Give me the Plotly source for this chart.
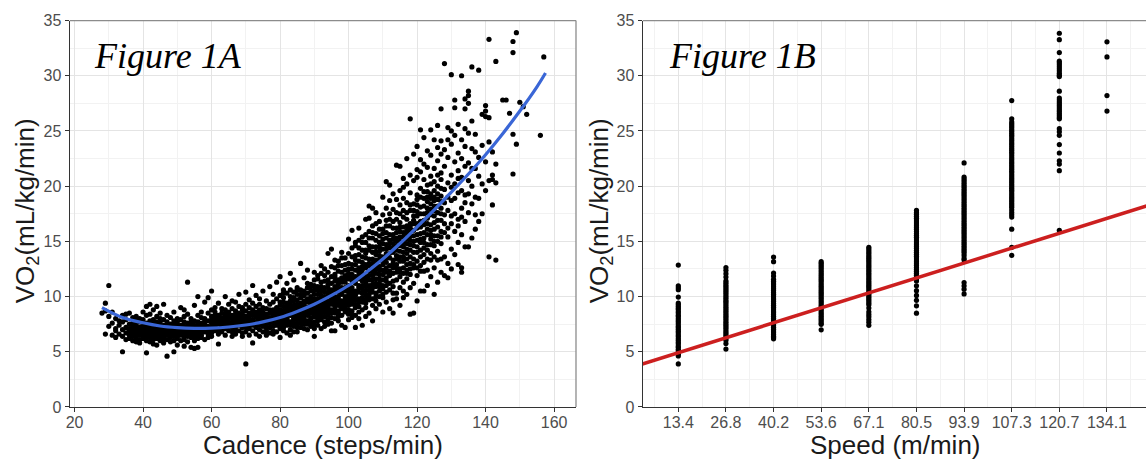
import plotly.graph_objects as go

# ---------------- Figure 1A data: VO2 readings at each cadence (steps/min) ----------------
band_20s_30s = [
    (28, [8.5]), (29, [9.4, 8.7, 6.6]), (30, [11.0, 7.3, 8.2]), (31, [6.5, 8.6, 7.6]),
    (32, [6.3, 8.0, 7.1, 6.9]), (33, [7.8, 6.6, 7.4]), (34, [5.0, 8.3, 7.0, 6.4, 7.7]),
    (35, [8.4, 7.2, 6.7, 6.1, 7.9]), (36, [7.5, 6.9, 8.5, 6.2, 7.1, 6.5]),
    (37, [8.1, 6.0, 7.3, 6.8, 7.6, 6.4]), (38, [8.2, 6.6, 7.0, 5.9, 7.8, 6.3, 7.4]),
    (39, [8.0, 6.1, 6.9, 7.2, 6.5, 7.7, 5.8]),
]
band_40s = [
    (40, [8.6, 6.4, 7.1, 6.2, 7.5, 6.7, 7.9]), (41, [4.9, 9.1, 6.5, 7.3, 6.0, 6.8, 7.6, 8.3]),
    (42, [9.3, 6.3, 7.0, 6.6, 7.8, 5.9, 7.2, 8.4]), (43, [8.8, 6.1, 7.4, 6.9, 6.4, 7.9, 5.7, 7.1]),
    (44, [9.1, 6.5, 7.7, 6.2, 7.0, 8.2, 6.8, 5.6]), (45, [8.0, 6.7, 7.3, 6.0, 7.6, 6.4, 8.5]),
    (46, [9.3, 6.2, 7.1, 6.6, 7.9, 5.8, 7.4]), (47, [4.6, 7.7, 6.5, 8.3, 6.9, 6.1, 7.3]),
    (48, [8.1, 6.3, 7.0, 5.9, 7.5, 6.7]), (49, [5.0, 8.6, 6.4, 7.2, 6.0, 7.8, 6.8]),
]
band_50s = [
    (50, [7.6, 6.2, 8.0, 6.6, 7.1, 5.6]), (51, [9.0, 6.5, 7.4, 6.0, 7.9, 6.9]),
    (52, [8.8, 6.1, 7.3, 5.5, 6.7, 7.7, 8.2]), (53, [11.3, 6.4, 7.0, 5.9, 7.6, 6.8, 8.4]),
    (54, [5.4, 7.2, 6.3, 8.0, 6.9, 7.5]), (55, [9.2, 6.0, 7.1, 5.3, 6.6, 7.8]),
    (56, [10.0, 6.5, 7.4, 5.4, 8.3, 6.9, 7.7]), (57, [8.6, 7.0, 6.3, 7.6, 8.1, 6.7]),
    (58, [9.5, 7.3, 6.8, 8.0, 6.1, 7.5]), (59, [9.9, 7.1, 8.5, 6.6, 7.8, 6.9]),
]
band_60s = [
    (60, [10.5, 6.7, 7.6, 8.2, 7.2, 8.8, 6.4]), (61, [9.0, 7.4, 8.0, 6.9, 7.7, 8.6]),
    (62, [5.7, 9.4, 7.0, 8.3, 7.5, 6.6, 7.9]), (63, [8.9, 7.2, 8.1, 6.8, 7.6, 8.5, 7.0]),
    (64, [10.0, 7.5, 8.4, 6.5, 7.9, 8.8, 7.1]), (65, [9.3, 7.3, 8.0, 6.9, 8.6, 7.7]),
    (66, [9.6, 6.8, 7.6, 8.3, 7.2, 8.9, 6.4]), (67, [9.5, 7.0, 8.1, 7.5, 8.7, 6.6, 7.8]),
    (68, [10.2, 7.4, 8.5, 6.9, 8.0, 9.1, 7.7]), (69, [9.0, 6.7, 7.9, 8.4, 7.2, 8.8, 6.4]),
]
band_70s = [
    (70, [3.9, 10.4, 7.5, 8.2, 6.8, 8.7, 7.8, 9.3]), (71, [9.7, 7.1, 8.0, 6.5, 8.5, 7.6, 9.0]),
    (72, [11.0, 5.8, 7.4, 8.3, 6.9, 8.8, 7.9, 9.4]), (73, [10.1, 6.6, 7.7, 8.6, 7.2, 9.1, 8.1]),
    (74, [9.8, 7.0, 8.4, 6.4, 7.9, 9.3, 8.8, 7.4]), (75, [10.5, 7.6, 8.2, 6.8, 9.0, 7.3, 8.6]),
    (76, [9.6, 6.9, 8.0, 7.5, 8.9, 6.5, 8.4, 7.8]), (77, [10.9, 7.2, 8.5, 6.7, 9.3, 7.9, 8.1]),
    (78, [10.2, 6.6, 7.7, 8.8, 7.3, 9.5, 8.3, 6.9]), (79, [11.3, 6.8, 8.0, 7.4, 9.0, 8.6, 7.7, 9.8]),
]
band_80s = [
    (80, [11.8, 7.1, 8.4, 6.3, 9.2, 7.8, 8.8, 10.1, 7.5]), (81, [10.6, 6.9, 8.1, 9.5, 7.6, 8.7, 7.2, 9.9]),
    (82, [11.2, 7.4, 8.6, 6.7, 9.1, 8.2, 7.9, 10.3, 8.9]), (83, [12.1, 7.0, 8.3, 9.6, 7.7, 8.8, 6.5, 10.0, 9.3]),
    (84, [11.5, 7.3, 8.0, 9.2, 8.5, 7.6, 10.4, 8.9, 6.8]), (85, [10.8, 6.8, 8.4, 9.7, 7.5, 9.0, 8.1, 10.2, 7.9]),
    (86, [13.0, 7.2, 8.7, 9.4, 8.2, 10.6, 7.6, 9.9, 8.5]), (87, [11.7, 7.5, 9.1, 8.0, 10.1, 8.6, 7.1, 9.6, 8.8]),
    (88, [12.4, 7.0, 8.3, 9.5, 10.8, 7.8, 9.0, 8.5, 10.3]), (89, [11.1, 7.6, 9.2, 8.1, 10.0, 8.8, 7.3, 9.7, 10.5]),
]
band_90s = [
    (90, [12.2, 6.4, 8.5, 9.8, 7.7, 10.6, 9.1, 8.2, 11.0, 7.1]), (91, [11.6, 7.4, 8.9, 10.2, 8.0, 9.5, 10.9, 7.8, 9.2]),
    (92, [12.8, 7.1, 9.3, 8.4, 10.5, 9.0, 11.3, 7.9, 8.7, 9.9]), (93, [11.9, 7.7, 8.6, 10.0, 9.4, 8.2, 10.8, 7.3, 9.7]),
    (94, [13.9, 7.5, 9.0, 8.3, 10.4, 9.6, 11.5, 8.8, 10.1, 7.9]), (95, [14.3, 6.9, 8.8, 10.6, 9.3, 11.8, 8.1, 9.9, 10.3, 7.6]),
    (96, [12.6, 6.9, 9.5, 8.5, 10.9, 10.0, 11.4, 9.1, 8.0, 12.0]), (97, [13.2, 7.8, 9.2, 10.4, 8.7, 11.1, 9.8, 12.3, 8.2, 10.7]),
    (98, [14.0, 7.4, 9.6, 8.9, 10.8, 10.2, 11.7, 9.0, 12.8, 8.3]), (99, [13.5, 7.2, 8.6, 10.5, 9.4, 11.3, 10.0, 12.4, 9.1, 11.9]),
]
band_100s = [
    (100, [15.2, 7.9, 9.9, 8.8, 11.0, 10.4, 12.1, 9.5, 13.0, 11.6, 8.4]),
    (101, [16.0, 8.1, 9.3, 10.8, 12.5, 9.9, 11.4, 13.6, 10.2, 8.7, 12.0]),
    (102, [14.6, 7.2, 9.7, 11.2, 10.5, 12.9, 9.0, 11.8, 13.3, 8.3, 10.1]),
    (103, [16.2, 8.0, 9.5, 11.6, 10.8, 13.8, 12.2, 9.1, 11.0, 14.4, 8.6]),
    (104, [15.4, 7.4, 9.9, 12.0, 10.3, 11.4, 13.1, 8.8, 12.7, 14.9, 10.7]),
    (105, [17.0, 8.2, 10.1, 11.8, 12.6, 9.4, 13.5, 10.9, 14.2, 11.2, 15.6, 9.0]),
    (106, [18.2, 17.1, 8.5, 10.6, 12.3, 9.7, 13.0, 11.5, 14.6, 12.8, 15.9, 10.2]),
    (107, [18.0, 7.8, 9.2, 11.9, 13.4, 10.4, 12.5, 14.0, 11.1, 15.3, 16.4, 9.8]),
    (108, [17.6, 8.9, 10.9, 12.1, 13.8, 11.6, 14.5, 9.6, 15.7, 12.9, 16.6, 10.3]),
    (109, [16.8, 9.3, 10.5, 12.7, 13.3, 11.2, 14.9, 15.5, 12.0, 10.0, 14.1]),
]
band_110s = [
    (110, [19.0, 8.6, 10.7, 12.4, 14.3, 11.5, 15.2, 13.6, 16.1, 12.9, 17.4, 9.9]),
    (111, [20.4, 9.5, 11.0, 13.1, 14.7, 12.2, 15.8, 11.7, 16.9, 13.9, 18.0, 10.4]),
    (112, [20.1, 8.9, 10.6, 12.8, 15.1, 13.5, 16.4, 11.9, 17.5, 14.4, 18.7, 12.3]),
    (113, [19.3, 8.5, 10.9, 13.3, 14.0, 15.6, 12.6, 16.8, 11.4, 17.9, 14.8, 9.7]),
    (114, [21.9, 9.8, 11.5, 13.7, 15.3, 12.9, 16.2, 14.6, 17.6, 18.8, 12.2, 10.3]),
    (115, [21.8, 9.2, 11.8, 14.1, 15.9, 13.2, 16.7, 12.5, 18.3, 15.0, 19.6, 10.8]),
    (116, [20.7, 9.9, 12.1, 14.5, 13.6, 16.3, 17.2, 11.3, 18.9, 15.4, 19.9, 10.5]),
    (117, [22.5, 10.2, 12.4, 13.9, 15.7, 17.0, 14.8, 18.5, 12.9, 16.4, 20.2, 11.6]),
    (118, [26.1, 8.4, 10.8, 13.0, 15.1, 16.6, 14.2, 17.8, 19.4, 12.0, 21.0, 16.0]),
    (119, [22.9, 8.5, 11.2, 13.4, 15.5, 17.3, 14.6, 18.4, 12.6, 20.5, 16.9]),
]
band_120s = [
    (120, [23.6, 9.6, 11.9, 14.0, 16.2, 15.1, 17.7, 19.2, 13.2, 20.8, 18.3, 21.5]),
    (121, [25.1, 10.5, 12.8, 14.9, 16.8, 15.7, 18.1, 19.8, 13.6, 21.3, 22.4]),
    (122, [24.4, 10.5, 12.3, 14.4, 16.5, 17.5, 15.3, 18.9, 20.6, 13.1, 22.0]),
    (123, [23.2, 11.0, 13.4, 15.6, 17.1, 18.6, 16.1, 20.1, 14.2, 21.7, 19.5]),
    (124, [25.1, 11.8, 13.9, 16.0, 17.9, 15.2, 19.3, 20.9, 14.7, 22.8, 18.4]),
    (125, [24.2, 10.2, 12.6, 14.6, 16.7, 18.2, 20.4, 17.3, 21.6, 15.5, 19.0]),
    (126, [25.5, 11.3, 14.1, 16.3, 18.8, 17.6, 20.0, 22.3, 15.0, 23.5]),
    (127, [27.0, 24.1, 12.2, 14.8, 16.9, 19.1, 18.0, 21.2, 22.9, 15.9]),
    (128, [31.1, 11.9, 13.6, 15.8, 17.4, 19.7, 21.8, 18.5, 23.3, 16.6]),
    (129, [24.2, 11.7, 13.0, 15.4, 17.8, 20.3, 19.0, 22.6, 16.2, 25.3]),
]
band_130s = [
    (130, [30.1, 12.5, 14.3, 16.6, 18.7, 21.0, 19.9, 23.8, 17.3, 25.0]),
    (131, [27.1, 27.8, 13.8, 15.9, 17.5, 20.2, 22.2, 18.9, 24.6]),
    (132, [25.6, 12.9, 14.9, 17.0, 19.4, 21.4, 23.0, 16.4, 20.7]),
    (133, [30.0, 24.2, 12.2, 12.6, 15.6, 18.0, 20.8, 22.5, 17.2, 19.6]),
    (134, [27.9, 27.0, 14.5, 16.8, 19.2, 21.8, 23.6, 25.2, 18.5]),
    (135, [28.6, 28.2, 27.5, 14.5, 17.6, 20.5, 22.1, 24.8, 19.3]),
    (136, [30.8, 15.3, 18.4, 21.6, 23.4, 20.0, 25.9]),
    (137, [21.6, 16.1, 19.0, 23.1, 17.4, 24.7]),
    (138, [30.5, 20.9, 16.8, 22.6, 18.9]),
    (139, [26.5, 20.2, 17.5, 23.7]),
]
band_140s_150s = [
    (140, [27.3, 26.8, 26.3, 19.6, 22.2]), (141, [33.3, 26.2, 13.6, 20.5, 24.0]),
    (142, [18.3, 21.0, 20.6, 23.1]), (143, [31.3, 22.0, 13.3, 20.3]),
    (145, [27.8]), (146, [27.8]), (147, [26.6]), (148, [33.1, 32.1, 21.1, 24.7]),
    (149, [33.9, 23.8]), (150, [27.6]), (151, [27.2]), (152, [26.5]),
    (156, [24.6]), (157, [31.7]),
]
# extra readings filling the densest part of the cloud
core_36_59 = [
    (36, [7.0, 6.7]), (37, [7.1, 6.6]), (38, [6.8, 7.2]), (39, [6.6, 7.0]), (40, [6.9, 6.6, 7.3]),
    (41, [7.0, 6.3]), (42, [6.8, 7.5]), (43, [6.6, 7.6]), (44, [6.4, 7.3]), (45, [7.0, 6.2]),
    (46, [6.9, 6.4]), (47, [7.0, 6.7]), (48, [6.5, 7.3, 6.9]), (49, [6.6, 7.5]), (50, [6.9, 7.3, 6.4]),
    (51, [6.7, 7.1]), (52, [6.4, 7.0]), (53, [6.6, 7.3]), (54, [6.6, 7.7]), (55, [6.8, 7.4, 6.3]),
    (56, [7.1, 6.2]), (57, [7.3, 6.5]), (58, [7.0, 7.8]), (59, [7.3, 6.3]),
]
core_60_79 = [
    (60, [7.0, 7.9]), (61, [7.2, 8.3]), (62, [7.7, 8.1]), (63, [7.4, 7.8]), (64, [7.3, 8.1]),
    (65, [7.5, 8.3]), (66, [7.4, 8.0]), (67, [7.3, 8.4]), (68, [7.6, 8.3]), (69, [7.7, 8.1]),
    (70, [7.2, 8.0]), (71, [7.4, 8.3]), (72, [7.7, 8.6]), (73, [7.5, 8.4]), (74, [7.7, 8.1]),
    (75, [7.9, 8.4]), (76, [7.2, 8.2]), (77, [7.6, 8.8]), (78, [8.0, 8.6]), (79, [7.9, 8.3]),
]
core_80_99 = [
    (80, [8.0, 8.6, 9.5, 7.3]), (81, [8.4, 7.9, 9.1, 10.3]), (82, [8.0, 9.4, 7.6, 8.4]),
    (83, [8.6, 7.4, 9.0, 10.6]), (84, [8.2, 9.6, 7.9, 9.9]), (85, [8.8, 9.3, 7.2, 10.6]),
    (86, [8.0, 9.1, 10.2, 7.9]), (87, [8.3, 9.3, 10.5, 7.8]), (88, [8.8, 9.8, 7.5, 11.2]),
    (89, [8.5, 9.4, 10.9, 8.0]), (90, [8.8, 9.5, 10.2, 7.4, 11.5]), (91, [8.5, 9.8, 10.6, 11.9, 8.2]),
    (92, [9.6, 10.1, 8.1, 10.9, 12.1]), (93, [9.1, 10.4, 11.4, 8.9, 12.5]), (94, [9.3, 10.8, 8.6, 12.2, 11.1]),
    (95, [9.6, 10.0, 11.2, 8.5, 12.7]), (96, [9.8, 10.6, 8.8, 11.8, 13.3]), (97, [10.0, 11.5, 9.5, 8.5, 12.8]),
    (98, [9.3, 10.5, 11.3, 12.2, 13.5]), (99, [9.7, 10.8, 11.6, 8.9, 12.9]),
]
core_100_127 = [
    (100, [10.1, 10.8, 11.8, 9.2, 12.5, 13.9]), (101, [9.6, 10.5, 11.7, 12.9, 8.4, 14.4]),
    (102, [10.3, 11.5, 12.4, 9.3, 13.7, 14.9]), (103, [10.4, 11.9, 12.6, 9.8, 13.2, 15.1]),
    (104, [11.0, 11.8, 12.4, 9.5, 13.6, 14.2]), (105, [10.5, 11.5, 12.9, 13.9, 9.7, 14.9]),
    (106, [11.0, 11.9, 13.4, 14.2, 9.9, 15.3]), (107, [10.8, 12.2, 13.0, 14.5, 11.5, 15.8]),
    (108, [11.2, 12.5, 13.3, 14.1, 10.0, 15.1]), (109, [11.6, 12.4, 13.7, 14.5, 10.9, 16.1]),
    (110, [11.0, 12.0, 13.2, 14.8, 10.2, 15.7]), (111, [11.4, 12.6, 13.5, 14.3, 15.3, 16.4]),
    (112, [11.2, 12.0, 13.9, 14.8, 15.6, 17.0]), (113, [12.1, 13.0, 14.4, 15.2, 16.2, 10.3]),
    (114, [12.6, 13.4, 14.2, 15.0, 15.8, 17.0]), (115, [12.2, 13.6, 14.6, 15.4, 16.3, 17.5]),
    (116, [12.6, 13.2, 14.0, 14.9, 15.8, 17.8]), (117, [12.1, 13.4, 14.3, 15.2, 16.0, 17.6]),
    (118, [12.5, 13.6, 14.7, 15.5, 16.3, 18.3]), (119, [12.9, 14.0, 15.0, 16.0, 16.6, 17.8]),
    (120, [12.6, 14.5, 15.6, 16.6, 17.3, 18.8]), (121, [12.3, 14.2, 15.2, 16.3, 17.5, 19.0]),
    (122, [13.8, 14.9, 15.8, 16.9, 18.2, 19.5]), (123, [12.4, 14.7, 16.6, 17.6, 18.0, 19.0]),
    (124, [13.3, 15.6, 16.5, 17.4, 18.9, 20.2]), (125, [13.6, 15.0, 16.1, 17.8, 18.7, 19.6]),
    (126, [13.3, 15.5, 16.9, 18.2, 19.3, 21.0]), (127, [13.4, 15.4, 17.5, 18.6, 19.8, 20.6]),
]

# smoothed fit (blue)
curve_cadence = [28, 34, 40, 45, 50, 55, 60, 65, 70, 75, 80, 85, 90, 95, 100, 105, 110, 115,
                 120, 125, 130, 135, 140, 145, 150, 155, 157.5]
curve_vo2 = [9.0, 8.1, 7.62, 7.33, 7.18, 7.12, 7.14, 7.24, 7.42, 7.7, 8.1, 8.65, 9.3, 10.1, 11.0,
             12.15, 13.4, 14.8, 16.3, 17.85, 19.45, 21.1, 22.85, 24.75, 26.8, 29.0, 30.25]

# ---------------- Figure 1B data: VO2 readings at each speed (m/min) ----------------
speed_values = [13.41, 26.82, 40.23, 53.64, 67.06, 80.47, 93.88, 107.29, 120.70, 134.11]
speed_labels = ["13.4", "26.8", "40.2", "53.6", "67.1", "80.5", "93.9", "107.3", "120.7", "134.1"]

vo2_speed_13_4 = [12.85, 10.97, 10.8, 10.62, 9.95, 9.41, 9.27, 9.12, 8.95, 8.83, 8.64, 8.5, 8.31, 8.19, 8.0,
                  7.84, 7.69, 7.52, 7.33, 7.2, 7.03, 6.86, 6.7, 6.51, 6.38, 6.2, 6.04, 5.87, 5.72, 5.53,
                  5.4, 5.22, 5.08, 4.91, 4.77, 4.62, 3.9]
vo2_speed_26_8 = [12.62, 12.38, 12.07, 11.76, 11.42, 11.26, 11.1, 10.92, 10.76, 10.58, 10.41, 10.25, 10.07,
                  9.91, 9.74, 9.57, 9.42, 9.24, 9.06, 8.9, 8.73, 8.57, 8.39, 8.22, 8.06, 7.89, 7.71, 7.56,
                  7.39, 7.22, 7.05, 6.88, 6.72, 6.56, 6.39, 6.22, 6.04, 5.74, 5.24]
vo2_speed_40_2 = [13.58, 13.16, 12.13, 11.85, 11.56, 11.39, 11.22, 11.06, 10.88, 10.71, 10.55, 10.37, 10.21,
                  10.05, 9.87, 9.71, 9.54, 9.37, 9.21, 9.04, 8.87, 8.7, 8.54, 8.38, 8.21, 8.04, 7.87, 7.71,
                  7.54, 7.38, 7.21, 7.04, 6.88, 6.71, 6.56, 6.41, 6.28, 6.17]
vo2_speed_53_6 = [13.16, 13.01, 12.84, 12.67, 12.51, 12.33, 12.16, 11.99, 11.82, 11.64, 11.48, 11.31, 11.13,
                  10.96, 10.8, 10.63, 10.46, 10.3, 10.13, 9.96, 9.79, 9.61, 9.45, 9.28, 9.11, 8.94, 8.78,
                  8.61, 8.44, 8.27, 8.11, 7.94, 7.78, 7.61, 7.48, 6.98]
vo2_speed_67_1 = [14.46, 14.3, 14.13, 13.96, 13.79, 13.62, 13.46, 13.29, 13.12, 12.95, 12.78, 12.62, 12.45,
                  12.28, 12.11, 11.94, 11.78, 11.61, 11.44, 11.27, 11.1, 10.94, 10.77, 10.6, 10.43, 10.26,
                  10.1, 9.93, 9.76, 9.59, 9.42, 9.26, 8.95, 8.62, 8.38, 8.17, 7.92, 7.68, 7.39]
vo2_speed_80_5 = [17.8, 17.62, 17.45, 17.27, 17.1, 16.93, 16.76, 16.58, 16.41, 16.24, 16.07, 15.9, 15.72,
                  15.55, 15.38, 15.21, 15.03, 14.86, 14.69, 14.52, 14.35, 14.17, 14.0, 13.83, 13.66, 13.48,
                  13.31, 13.14, 12.97, 12.8, 12.62, 12.45, 12.28, 12.11, 11.93, 11.76, 11.58, 11.41, 10.97,
                  10.53, 10.1, 9.66, 9.16, 8.49]
vo2_speed_93_9 = [22.1, 20.82, 20.65, 20.48, 20.3, 20.13, 19.96, 19.79, 19.62, 19.44, 19.27, 19.1, 18.93,
                  18.76, 18.58, 18.41, 18.24, 18.07, 17.9, 17.72, 17.55, 17.38, 17.21, 17.04, 16.86, 16.69,
                  16.52, 16.35, 16.18, 16.0, 15.83, 15.66, 15.49, 15.32, 15.14, 14.97, 14.8, 14.63, 14.46,
                  14.28, 14.11, 13.94, 13.72, 13.45, 13.3, 11.26, 10.97, 10.67, 10.24]
vo2_speed_107_3 = [27.75, 26.1, 25.82, 25.65, 25.48, 25.3, 25.13, 24.96, 24.79, 24.62, 24.44, 24.27, 24.1,
                   23.93, 23.76, 23.58, 23.41, 23.24, 23.07, 22.9, 22.72, 22.55, 22.38, 22.21, 22.04, 21.86,
                   21.69, 21.52, 21.35, 21.18, 21.0, 20.83, 20.66, 20.49, 20.32, 20.14, 19.97, 19.8, 19.63,
                   19.46, 19.28, 19.11, 18.94, 18.77, 18.6, 18.42, 18.25, 18.08, 17.85, 17.62, 17.4, 17.2,
                   16.1, 14.46, 13.73]
vo2_speed_120_7 = [33.85, 33.27, 32.1, 31.32, 31.15, 30.98, 30.78, 30.6, 30.42, 30.22, 30.05, 29.92, 28.6,
                   27.98, 27.8, 27.62, 27.45, 27.28, 27.1, 26.92, 26.75, 26.58, 26.4, 26.22, 26.1, 25.2,
                   24.92, 24.6, 23.76, 23.0, 22.3, 22.0, 21.4, 16.0]
vo2_speed_134_1 = [33.07, 31.7, 28.2, 26.8]

# linear fit (red)
fit_speed = [0, 150]
fit_vo2 = [3.56, 18.69]

# ---------------- build ----------------
W, H = 1146, 467
PT = 13    # plot top (px)
PB = 414   # plot bottom (px)

cad_x, cad_y = [], []
for band in [band_20s_30s, band_40s, band_50s, band_60s, band_70s, band_80s, band_90s,
             band_100s, band_110s, band_120s, band_130s, band_140s_150s,
             core_36_59, core_60_79, core_80_99, core_100_127]:
    for c, vals in band:
        for v in vals:
            cad_x.append(c)
            cad_y.append(v)

speed_cols = [vo2_speed_13_4, vo2_speed_26_8, vo2_speed_40_2, vo2_speed_53_6, vo2_speed_67_1,
              vo2_speed_80_5, vo2_speed_93_9, vo2_speed_107_3, vo2_speed_120_7, vo2_speed_134_1]
sp_x, sp_y = [], []
for s, vals in zip(speed_values, speed_cols):
    for v in vals:
        sp_x.append(s)
        sp_y.append(v)

fig = go.Figure()
fig.add_trace(go.Scatter(x=cad_x, y=cad_y, mode="markers", xaxis="x", yaxis="y",
                         marker=dict(color="black", size=5.2, line=dict(width=0)), showlegend=False))
fig.add_trace(go.Scatter(x=curve_cadence, y=curve_vo2, mode="lines", xaxis="x", yaxis="y",
                         line=dict(color="#3A66D6", width=3.2, shape="spline", smoothing=1.0),
                         showlegend=False))
fig.add_trace(go.Scatter(x=sp_x, y=sp_y, mode="markers", xaxis="x2", yaxis="y2",
                         marker=dict(color="black", size=5.2, line=dict(width=0)), showlegend=False))
fig.add_trace(go.Scatter(x=fit_speed, y=fit_vo2, mode="lines", xaxis="x2", yaxis="y2",
                         line=dict(color="#CC1F1F", width=3.5), showlegend=False))

tickfont = dict(family="Liberation Sans, Arial", size=16, color="#4D4D4D")
common = dict(showgrid=True, gridcolor="#E4E4E4", gridwidth=1, zeroline=False,
              showline=True, linecolor="#333333", linewidth=1.3,
              ticks="outside", ticklen=4, tickcolor="#333333", tickwidth=1,
              tickfont=tickfont)

ydom = [1 - PB / H, 1 - PT / H]
mid_speeds = [6.705] + [(a + b) / 2 for a, b in zip(speed_values[:-1], speed_values[1:])] + [140.8]

fig.update_layout(
    width=W, height=H, margin=dict(l=0, r=0, t=0, b=0),
    paper_bgcolor="white", plot_bgcolor="white",
    xaxis=dict(domain=[66 / W, 574 / W], range=[18.6, 166.4], tickmode="linear", tick0=0, dtick=20,
               ticklabelstandoff=-3,
               minor=dict(dtick=10, showgrid=True, gridcolor="#F2F2F2", ticks=""), **common),
    yaxis=dict(domain=ydom, range=[0, 35], tickmode="linear", tick0=0, dtick=5,
               minor=dict(dtick=2.5, showgrid=True, gridcolor="#F2F2F2", ticks=""), **common),
    xaxis2=dict(domain=[641 / W, 1.0], range=[3.4, 145.1], anchor="y2", tickmode="array",
                tickvals=speed_values, ticktext=speed_labels, ticklabelstandoff=-3,
                minor=dict(tickmode="array", tickvals=mid_speeds, showgrid=True, gridcolor="#F2F2F2", ticks=""),
                **common),
    yaxis2=dict(domain=ydom, range=[0, 35], anchor="x2", tickmode="linear", tick0=0, dtick=5,
                minor=dict(dtick=2.5, showgrid=True, gridcolor="#F2F2F2", ticks=""), **common),
)

border = "#8C8C8C"
fig.add_shape(type="line", xref="paper", yref="paper", x0=66 / W, x1=574 / W, y0=1 - PT / H, y1=1 - PT / H,
              line=dict(color=border, width=1.3))
fig.add_shape(type="line", xref="paper", yref="paper", x0=574 / W, x1=574 / W, y0=1 - PB / H, y1=1 - PT / H,
              line=dict(color=border, width=1.3))
fig.add_shape(type="line", xref="paper", yref="paper", x0=641 / W, x1=1.0, y0=1 - PT / H, y1=1 - PT / H,
              line=dict(color=border, width=1.3))

title_font = dict(family="Liberation Sans, Arial", size=26, color="#1A1A1A")
label_font = dict(family="Liberation Serif, Times New Roman", size=36, color="black")
ann = [
    dict(text="Cadence (steps/min)", x=320 / W, y=1 - 453 / H, xanchor="center", yanchor="middle", font=title_font),
    dict(text="Speed (m/min)", x=895 / W, y=1 - 453 / H, xanchor="center", yanchor="middle", font=title_font),
    dict(text="VO<sub>2</sub>(mL/kg/min)", x=22 / W, y=1 - 210 / H, xanchor="center", yanchor="middle",
         textangle=-90, font=title_font),
    dict(text="VO<sub>2</sub>(mL/kg/min)", x=598 / W, y=1 - 210 / H, xanchor="center", yanchor="middle",
         textangle=-90, font=title_font),
    dict(text="<i>Figure 1A</i>", x=88 / W, y=1 - 50 / H, xanchor="left", yanchor="middle", font=label_font),
    dict(text="<i>Figure 1B</i>", x=665 / W, y=1 - 50 / H, xanchor="left", yanchor="middle", font=label_font),
]
for a in ann:
    fig.add_annotation(xref="paper", yref="paper", showarrow=False, **a)

fig.write_html("out.html", post_script="document.body.style.margin='0';document.body.style.overflow='hidden';")
